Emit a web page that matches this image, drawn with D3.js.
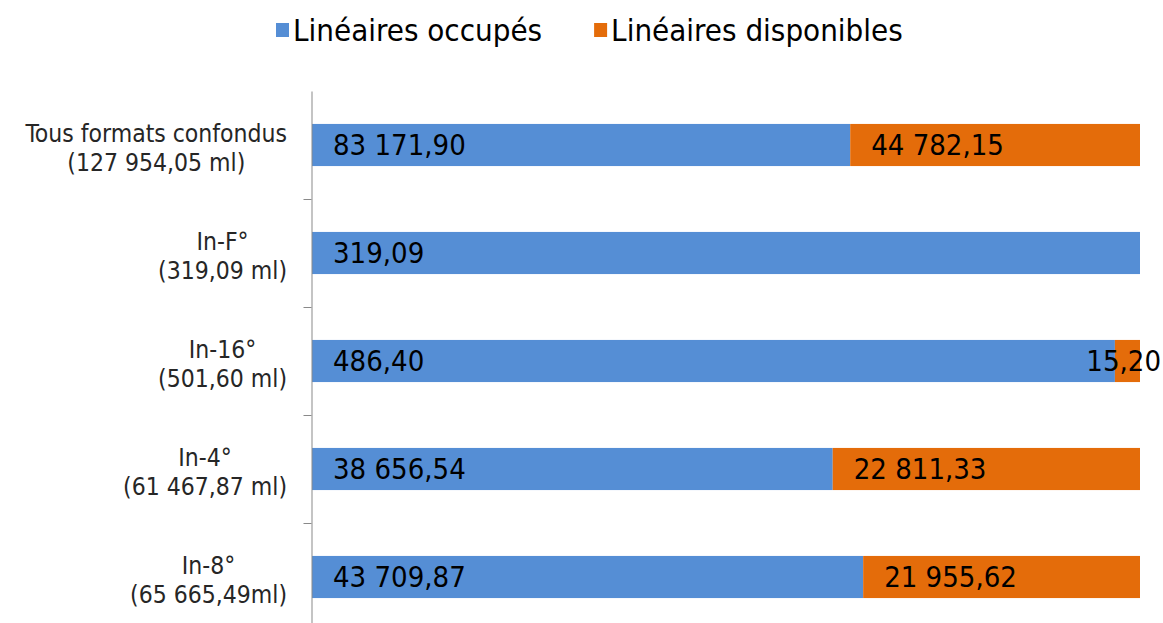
<!DOCTYPE html>
<html>
<head>
<meta charset="utf-8">
<script src="https://cdn.jsdelivr.net/npm/d3@7"></script>
<style>
  body { margin: 0; background: #fff; }
  text { font-family: "DejaVu Sans Condensed", "DejaVu Sans", sans-serif; }
</style>
</head>
<body>
<div id="chart"></div>
<script>
// categories, top to bottom (two-line labels)
const categories = ["Tous formats confondus", "In-F°", "In-16°", "In-4°", "In-8°"];
const totals = ["(127 954,05 ml)", "(319,09 ml)", "(501,60 ml)", "(61 467,87 ml)", "(65 665,49ml)"];
const occupes = [83171.90, 319.09, 486.40, 38656.54, 43709.87];
const disponibles = [44782.15, 0, 15.20, 22811.33, 21955.62];
const seriesNames = ["Linéaires occupés", "Linéaires disponibles"];
const colors = ["#558ed5", "#e46c0a"];

const W = 1163, H = 623;
const svg = d3.select("#chart").append("svg")
  .attr("width", W).attr("height", H);

// 100% stacked -> share of each row
const rows = categories.map((c, i) => ({
  cat: c, total: totals[i], occ: occupes[i], dis: disponibles[i]
}));

const x = d3.scaleLinear().domain([0, 1]).range([312, 1140]);
const y = d3.scaleBand().domain(categories).range([91, 631])
  .paddingInner(0.61).paddingOuter(0.305);

const fmt = v => {
  const s = d3.format(",.2f")(v);
  return s.replace(/,/g, " ").replace(".", ",");
};

// bars
rows.forEach(function(d) {
  const sum = d.occ + d.dis;
  const segs = [
    {v: d.occ, x0: 0, x1: d.occ / sum, c: colors[0]},
    {v: d.dis, x0: d.occ / sum, x1: 1, c: colors[1]}
  ];
  segs.forEach(function(s) {
    if (s.v <= 0) return;
    svg.append("rect")
      .attr("x", x(s.x0))
      .attr("y", y(d.cat))
      .attr("width", x(s.x1) - x(s.x0))
      .attr("height", y.bandwidth())
      .attr("fill", s.c);
  });
  segs.forEach(function(s) {
    if (s.v <= 0) return;
    const w = x(s.x1) - x(s.x0);
    const t = svg.append("text")
      .attr("y", y(d.cat) + y.bandwidth() / 2)
      .attr("dy", "0.36em")
      .attr("font-size", 29)
      .attr("fill", "#000")
      .text(fmt(s.v));
    const tw = t.node().getComputedTextLength();
    let tx = x(s.x0) + 21;
    if (w < tw + 30) {
      // too narrow: centre on the segment, keep inside the picture
      tx = Math.min(x(s.x0) + w / 2 - tw / 2, W - 2 - tw);
    }
    t.attr("x", tx);
  });
});

// axis with ticks between categories
const yb = d3.scaleLinear().domain([0, categories.length]).range([91, 631]);
svg.append("g")
  .attr("transform", "translate(311.5,0)")
  .call(d3.axisLeft(yb).tickValues([1, 2, 3, 4]).tickSize(8).tickFormat("").tickSizeOuter(0))
  .call(g => g.selectAll("line, path").attr("stroke", "#898989"));

// category labels, block right-aligned, lines centred
rows.forEach(function(d) {
  const cy = y(d.cat) + y.bandwidth() / 2;
  const t = svg.append("text")
    .attr("font-size", 24.5)
    .attr("fill", "#262626")
    .attr("text-anchor", "middle");
  const l1 = t.append("tspan").attr("y", cy - 12).attr("dy", "0.36em").text(d.cat);
  const l2 = t.append("tspan").attr("y", cy + 17).attr("dy", "0.36em").text(d.total);
  const bw = Math.max(l1.node().getComputedTextLength(), l2.node().getComputedTextLength());
  const cx = 287 - bw / 2;
  l1.attr("x", cx);
  l2.attr("x", cx);
});

// legend
const leg = svg.append("g");
let lx = 276;
seriesNames.forEach(function(n, i) {
  leg.append("rect").attr("x", lx).attr("y", 23).attr("width", 13).attr("height", 14).attr("fill", colors[i]);
  const t = leg.append("text").attr("x", lx + 17).attr("y", 41)
    .attr("font-size", 31).attr("fill", "#000").text(n);
  lx += 17 + t.node().getComputedTextLength() + 52;
});
</script>
</body>
</html>
